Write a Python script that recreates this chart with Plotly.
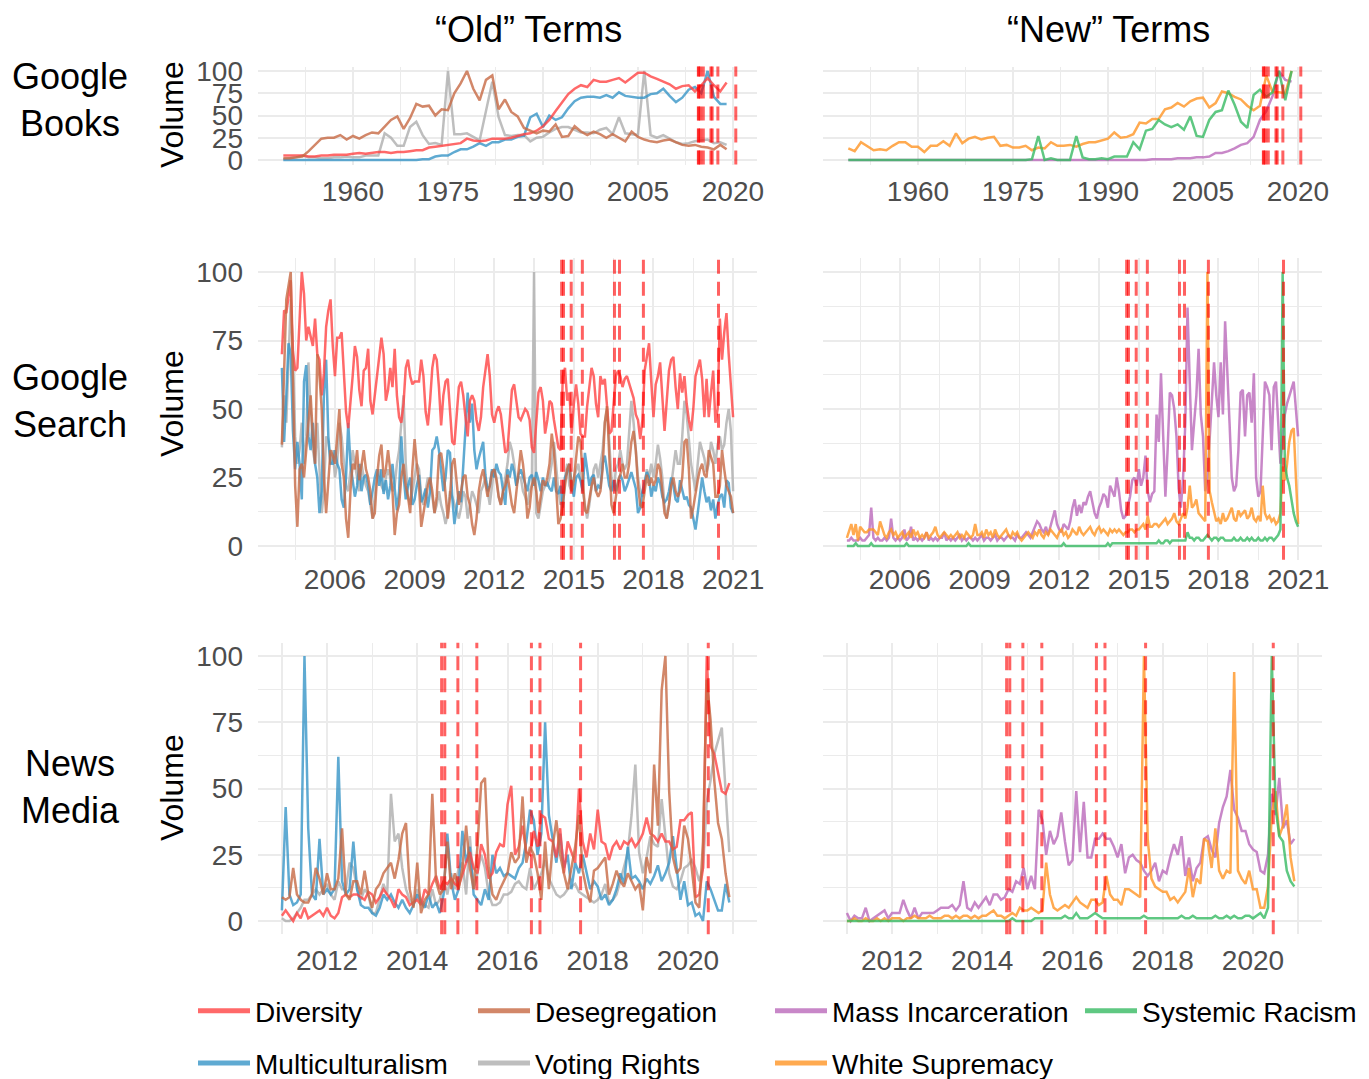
import plotly.graph_objects as go

FONT = "Liberation Sans, Arial, Helvetica, sans-serif"
W, H = 1369, 1079

# ---------------- data ----------------
series_names = ["Diversity", "Desegregation", "Mass Incarceration", "Systemic Racism",
                "Multiculturalism", "Voting Rights", "White Supremacy"]

# Google Books, annual 1949-2019
books_first_year = 1949
books_diversity = [5, 5, 5, 5, 4, 4, 5, 5, 6, 6,
                   6, 7, 8, 7, 8, 9, 9, 8, 9, 9,
                   10, 11, 11, 14, 15, 16, 17, 18, 19, 24,
                   22, 21, 22, 24, 24, 24, 25, 27, 29, 30,
                   33, 38, 45, 55, 65, 74, 80, 84, 82, 90,
                   88, 88, 90, 92, 87, 93, 98, 98, 94, 91,
                   88, 85, 80, 83, 84, 77, 84, 92, 84, 77,
                   87]
books_multiculturalism = [0, 0, 0, 0, 0, 0, 0, 0, 0, 0,
                          0, 0, 0, 0, 0, 0, 0, 0, 0, 0,
                          0, 0, 1, 1, 4, 5, 5, 9, 12, 12,
                          15, 19, 16, 20, 20, 23, 23, 26, 27, 48,
                          52, 37, 50, 45, 48, 58, 66, 70, 71, 71,
                          70, 73, 70, 76, 72, 71, 70, 70, 74, 75,
                          80, 72, 65, 70, 79, 82, 75, 100, 71, 63,
                          63]
books_desegregation = [2, 2, 3, 4, 10, 17, 24, 25, 25, 28,
                       23, 27, 24, 28, 31, 30, 38, 45, 49, 35,
                       47, 63, 60, 61, 50, 57, 56, 75, 86, 100,
                       80, 67, 90, 95, 57, 68, 54, 49, 36, 33,
                       30, 33, 32, 40, 26, 27, 38, 32, 28, 32,
                       29, 25, 29, 25, 21, 32, 26, 23, 21, 20,
                       22, 23, 20, 17, 16, 17, 15, 14, 12, 17,
                       12]
books_voting_rights = [1, 2, 3, 5, 3, 3, 2, 2, 3, 3,
                       4, 3, 3, 5, 5, 5, 30, 25, 16, 16,
                       37, 43, 28, 18, 19, 17, 100, 29, 29, 30,
                       26, 22, 55, 88, 48, 28, 27, 28, 28, 21,
                       25, 26, 31, 35, 37, 37, 34, 31, 31, 30,
                       34, 36, 29, 48, 30, 29, 28, 100, 28, 25,
                       28, 24, 20, 18, 19, 21, 22, 23, 19, 20,
                       17]
books_mass_incarceration = [0, 0, 0, 0, 0, 0, 0, 0, 0, 0,
                            0, 0, 0, 0, 0, 0, 0, 0, 0, 0,
                            0, 0, 0, 0, 0, 0, 0, 0, 0, 0,
                            0, 0, 0, 0, 0, 0, 0, 0, 0, 0,
                            0, 0, 0, 0, 0, 0, 0, 0, 1, 1,
                            1, 1, 2, 2, 2, 3, 3, 4, 8, 8,
                            10, 13, 17, 19, 26, 45, 55, 72, 100, 90,
                            88]
books_systemic_racism = [0, 0, 0, 0, 0, 0, 0, 0, 0, 0,
                         0, 0, 0, 0, 0, 0, 0, 0, 0, 0,
                         0, 0, 0, 0, 0, 0, 0, 0, 0, 1,
                         27, 0, 2, 0, 0, 0, 27, 3, 1, 1,
                         2, 1, 4, 4, 4, 20, 12, 33, 35, 45,
                         40, 37, 40, 34, 49, 27, 26, 45, 54, 56,
                         78, 62, 43, 36, 73, 79, 71, 76, 100, 67,
                         100]
books_white_supremacy = [13, 10, 20, 15, 11, 12, 11, 16, 20, 20,
                         15, 15, 9, 16, 16, 21, 16, 30, 19, 24,
                         26, 23, 25, 26, 16, 17, 14, 14, 16, 11,
                         14, 13, 20, 16, 16, 17, 15, 18, 20, 20,
                         22, 24, 31, 25, 26, 29, 42, 41, 46, 46,
                         57, 59, 64, 60, 66, 69, 70, 59, 64, 77,
                         75, 71, 68, 61, 56, 61, 95, 76, 76, 75,
                         100]

# Google Search, monthly from Jan 2004 (one row per year)
search_first_month = 2004.0
search_diversity = [
    70, 86, 85, 92, 97, 71, 64, 65, 86, 100, 92, 75,
    80, 76, 73, 83, 70, 68, 55, 63, 80, 86, 90, 73,
    62, 76, 76, 78, 62, 49, 43, 52, 62, 73, 69, 57,
    51, 64, 65, 72, 53, 48, 55, 64, 69, 76, 70, 53,
    57, 65, 58, 72, 55, 47, 45, 52, 65, 68, 62, 59,
    60, 60, 60, 68, 62, 49, 44, 53, 65, 70, 68, 58,
    44, 55, 60, 61, 49, 38, 37, 46, 58, 60, 55, 47,
    40, 53, 55, 53, 46, 42, 47, 58, 64, 70, 62, 48,
    45, 49, 51, 48, 41, 34, 35, 45, 57, 59, 53, 47,
    46, 48, 50, 49, 46, 36, 34, 45, 56, 58, 53, 41,
    46, 53, 52, 46, 41, 36, 35, 62, 65, 53, 56, 41,
    52, 59, 52, 41, 40, 40, 51, 58, 65, 62, 52, 47,
    62, 59, 61, 51, 41, 42, 51, 62, 64, 62, 58, 61,
    62, 59, 57, 54, 48, 46, 39, 46, 64, 70, 74, 60,
    47, 59, 62, 67, 53, 42, 53, 64, 68, 69, 58, 50,
    63, 56, 62, 52, 46, 42, 50, 62, 65, 68, 61, 47,
    61, 47, 56, 64, 45, 50, 83, 68, 78, 85, 70, 58,
    47]
search_multiculturalism = [
    65, 38, 55, 74, 70, 42, 28, 38, 30, 17, 60, 66,
    40, 35, 45, 30, 25, 12, 20, 55, 68, 40, 30, 30,
    35, 30, 28, 17, 14, 25, 45, 30, 24, 18, 22, 30,
    20, 25, 26, 22, 15, 20, 25, 28, 22, 28, 19, 24,
    17, 22, 30, 21, 13, 20, 40, 26, 17, 22, 25, 15,
    17, 22, 26, 16, 18, 21, 14, 20, 35, 36, 40, 35,
    28, 20, 25, 35, 34, 18, 8, 15, 20, 16, 30, 40,
    56, 45, 52, 35, 28, 32, 35, 38, 26, 20, 22, 28,
    25, 30, 27, 26, 20, 15, 28, 25, 30, 27, 22, 26,
    28, 25, 22, 20, 25, 26, 22, 27, 24, 20, 25, 22,
    23, 21, 20, 25, 20, 19, 22, 14, 25, 27, 30, 22,
    18, 25, 26, 24, 20, 34, 28, 22, 25, 26, 20, 22,
    21, 30, 33, 28, 22, 20, 24, 20, 23, 26, 24, 20,
    22, 25, 27, 24, 21, 12, 14, 20, 24, 27, 25, 18,
    22, 20, 25, 23, 18, 16, 17, 20, 25, 22, 17, 16,
    24, 21, 17, 18, 15, 14, 10, 6, 12, 18, 25, 20,
    16, 18, 13, 17, 10, 15, 18, 19, 14, 24, 23, 14,
    12]
search_desegregation = [
    37, 62, 90, 95, 100, 60, 22, 7, 28, 30, 25, 35,
    45, 55, 40, 30, 70, 62, 50, 25, 12, 22, 35, 33,
    30, 40, 50, 30, 25, 10, 3, 20, 30, 28, 35, 24,
    30, 35, 28, 25, 20, 10, 12, 25, 33, 37, 25, 28,
    35, 28, 20, 4, 12, 15, 25, 30, 22, 18, 12, 28,
    39, 30, 22, 7, 12, 18, 22, 25, 20, 12, 18, 33,
    34, 28, 20, 10, 18, 30, 32, 22, 15, 20, 25, 26,
    18, 15, 8, 4, 10, 20, 25, 28, 22, 18, 22, 27,
    28, 24, 18, 15, 20, 22, 26, 20, 15, 12, 20, 28,
    35, 30, 22, 10, 14, 22, 25, 20, 12, 18, 24, 22,
    25, 30, 41, 35, 20, 8, 10, 15, 22, 28, 30, 20,
    24, 32, 40, 38, 25, 13, 12, 18, 22, 25, 20, 18,
    20, 28, 45, 51, 30, 15, 12, 18, 24, 26, 30, 25,
    25, 30, 38, 42, 35, 22, 15, 14, 20, 26, 22, 25,
    22, 24, 30, 28, 20, 12, 10, 15, 22, 25, 20, 18,
    20, 25, 38, 39, 28, 10, 14, 20, 24, 28, 30, 26,
    25, 35, 32, 30, 18, 18, 22, 35, 28, 22, 20, 18,
    12]
search_voting_rights = [
    36, 55, 45, 65, 90, 70, 40, 30, 35, 45, 30, 40,
    67, 50, 35, 30, 45, 28, 12, 20, 40, 38, 30, 35,
    25, 30, 45, 40, 30, 22, 20, 28, 35, 30, 25, 20,
    30, 25, 22, 20, 15, 10, 18, 25, 28, 22, 20, 25,
    28, 25, 20, 22, 30, 35, 45, 55, 30, 18, 15, 20,
    25, 30, 28, 18, 15, 20, 25, 22, 18, 12, 15, 20,
    15, 12, 8, 12, 20, 18, 15, 12, 10, 14, 20, 18,
    10, 15, 20, 18, 15, 12, 20, 22, 25, 20, 15, 22,
    28, 25, 18, 15, 20, 25, 30, 38, 35, 30, 22, 25,
    25, 20, 18, 15, 20, 22, 100, 12, 10, 15, 20, 22,
    22, 25, 30, 38, 28, 20, 15, 18, 25, 30, 22, 20,
    25, 28, 30, 25, 20, 15, 10, 15, 22, 28, 30, 25,
    30, 35, 45, 50, 38, 25, 20, 28, 30, 35, 30, 28,
    30, 40, 53, 45, 35, 25, 20, 18, 22, 28, 25, 30,
    25, 30, 37, 32, 25, 15, 10, 15, 22, 28, 35, 30,
    30, 40, 53, 48, 40, 30, 25, 20, 30, 38, 35, 32,
    27, 30, 38, 35, 30, 37, 40, 35, 37, 45, 50, 42,
    20]
search_mass_incarceration = [
    2, 2, 3, 2, 2, 2, 3, 2, 2, 3, 4, 14,
    3, 2, 3, 2, 2, 3, 2, 3, 10, 3, 2, 3,
    2, 3, 6, 2, 3, 7, 2, 3, 2, 3, 2, 3,
    5, 2, 3, 2, 3, 2, 3, 3, 5, 2, 3, 2,
    3, 2, 3, 4, 2, 3, 2, 3, 3, 2, 3, 2,
    3, 4, 2, 3, 3, 2, 3, 4, 2, 3, 3, 2,
    3, 4, 3, 3, 2, 4, 3, 3, 4, 5, 4, 3,
    5, 7, 9, 8, 6, 5, 7, 4, 7, 10, 13, 8,
    6, 5, 8, 7, 6, 9, 14, 17, 11, 15, 12, 16,
    15, 18, 20, 16, 12, 10, 14, 16, 19, 18, 14, 22,
    20, 18, 25, 20, 13, 10, 11, 14, 18, 24, 25, 22,
    28, 22, 25, 33, 20, 16, 19, 20, 48, 38, 63, 40,
    18, 35, 56, 55, 50, 40, 21, 14, 25, 45, 87, 60,
    35, 45, 55, 72, 48, 40, 20, 25, 40, 50, 67, 55,
    47, 67, 48, 82, 60, 45, 25, 20, 22, 35, 56, 57,
    40, 55, 56, 45, 63, 25, 18, 20, 40, 60, 58, 55,
    35, 58, 60, 45, 30, 40, 48, 52, 55, 58, 60, 50,
    40]
search_white_supremacy = [
    3, 6, 8, 4, 8, 2, 7, 6, 5, 5, 6, 6,
    6, 5, 4, 9, 6, 4, 3, 5, 6, 4, 5, 3,
    4, 5, 3, 4, 5, 3, 6, 4, 5, 3, 4, 3,
    5, 3, 4, 5, 7, 4, 3, 4, 5, 4, 3, 4,
    3, 4, 5, 3, 4, 3, 5, 4, 3, 4, 8, 4,
    4, 5, 3, 6, 4, 5, 3, 6, 4, 3, 4, 5,
    6, 4, 3, 5, 4, 5, 3, 2, 3, 4, 5, 4,
    3, 5, 4, 6, 4, 3, 5, 4, 6, 5, 4, 3,
    5, 6, 4, 5, 3, 4, 6, 5, 4, 7, 5, 4,
    5, 6, 7, 5, 4, 6, 7, 5, 6, 5, 4, 6,
    5, 6, 5, 6, 5, 4, 5, 5, 6, 6, 5, 6,
    6, 7, 8, 6, 11, 7, 7, 8, 8, 7, 8, 9,
    10, 8, 9, 10, 12, 9, 8, 10, 12, 10, 14, 22,
    14, 15, 17, 12, 11, 10, 9, 100, 20, 16, 12, 9,
    10, 8, 12, 9, 10, 12, 14, 10, 9, 13, 11, 12,
    13, 10, 11, 14, 10, 9, 11, 9, 22, 12, 10, 11,
    9, 10, 8, 9, 12, 29, 24, 30, 38, 42, 43, 25,
    8]
search_systemic_racism = [
    0, 0, 0, 0, 1, 0, 0, 0, 0, 0, 0, 1,
    0, 0, 0, 0, 0, 0, 0, 0, 0, 0, 0, 0,
    0, 0, 0, 1, 0, 0, 0, 0, 0, 0, 0, 0,
    0, 0, 0, 0, 0, 0, 0, 0, 0, 0, 0, 0,
    0, 0, 0, 0, 0, 0, 0, 1, 0, 0, 0, 0,
    0, 0, 0, 0, 0, 0, 0, 0, 0, 0, 0, 0,
    0, 0, 0, 0, 0, 0, 0, 0, 0, 0, 0, 0,
    0, 0, 0, 0, 0, 0, 0, 0, 0, 0, 0, 0,
    0, 0, 1, 0, 0, 0, 0, 0, 0, 0, 0, 0,
    0, 0, 0, 0, 0, 0, 0, 0, 0, 0, 1, 0,
    1, 1, 1, 1, 1, 1, 1, 1, 1, 1, 1, 1,
    1, 1, 1, 1, 1, 1, 1, 1, 1, 2, 1, 1,
    2, 2, 1, 2, 2, 2, 2, 2, 2, 2, 5, 3,
    3, 2, 3, 3, 2, 2, 3, 4, 3, 2, 3, 3,
    2, 3, 3, 2, 2, 2, 2, 3, 2, 2, 3, 2,
    2, 3, 2, 3, 2, 2, 3, 2, 2, 3, 2, 3,
    3, 2, 3, 4, 6, 100, 30, 25, 22, 16, 12, 9,
    7]

# News Media, monthly from Jan 2011 (one row per year)
news_first_month = 2011.0
news_diversity = [
    2, 4, 2, 0, 3, 1, 5, 1, 2, 3, 4, 2,
    5, 2, 1, 3, 9, 10, 9, 10, 10, 9, 8, 11,
    10, 7, 9, 12, 10, 8, 5, 12, 10, 9, 6, 7,
    8, 6, 12, 10, 14, 17, 12, 15, 14, 16, 14, 13,
    18, 22, 26, 20, 18, 29, 25, 16, 18, 26, 29, 28,
    44, 51, 25, 28, 36, 26, 25, 34, 28, 40, 39, 31,
    30, 24, 35, 18, 30, 26, 22, 50, 30, 24, 33, 27,
    42, 30, 29, 23, 28, 30, 27, 30, 29, 31, 28, 30,
    33, 39, 33, 32, 30, 33, 30, 30, 27, 28, 38, 38,
    40, 41, 9, 10, 20, 100, 66, 63, 56, 49, 48, 52]
news_multiculturalism = [
    4, 43, 10, 6, 7, 10, 100, 35, 10, 8, 31, 10,
    12, 10, 12, 62, 15, 10, 12, 30, 12, 6, 5, 5,
    3, 2, 5, 10, 8, 10, 7, 5, 8, 5, 3, 6,
    10, 7, 5, 10, 5, 7, 3, 10, 33, 15, 8, 12,
    34, 22, 28, 10, 8, 6, 12, 8, 25, 18, 20, 17,
    18, 17, 16, 20, 22, 30, 42, 38, 25, 33, 75, 40,
    30, 22, 33, 20, 25, 12, 22, 18, 25, 18, 12, 15,
    13, 8, 10, 6, 8, 12, 18, 14, 28, 16, 17, 15,
    12, 16, 14, 17, 21, 15, 18, 22, 32, 20, 8, 15,
    6, 7, 2, 3, 0, 15, 12, 8, 4, 4, 14, 7]
news_desegregation = [
    9, 8, 9, 20, 10, 8, 7, 7, 10, 20, 16, 10,
    18, 12, 12, 16, 35, 10, 8, 15, 15, 10, 19, 10,
    5, 12, 14, 18, 20, 22, 16, 23, 33, 37, 12, 5,
    22, 3, 8, 10, 48, 15, 10, 12, 30, 12, 18, 12,
    20, 36, 20, 12, 28, 52, 54, 20, 10, 8, 12, 15,
    18, 26, 22, 24, 47, 22, 28, 25, 18, 8, 30, 12,
    28, 38, 25, 18, 12, 20, 28, 40, 19, 12, 7, 19,
    20, 22, 24, 10, 14, 19, 15, 13, 18, 15, 12, 14,
    4, 24, 18, 59, 36, 87, 100, 49, 24, 18, 20, 36,
    31, 20, 7, 5, 30, 91, 76, 53, 37, 31, 18, 9]
news_voting_rights = [
    1, 0, 0, 1, 3, 5, 8, 8, 10, 12, 10, 12,
    14, 10, 8, 15, 12, 12, 22, 20, 12, 8, 12, 10,
    3, 3, 8, 14, 10, 48, 30, 33, 20, 12, 8, 6,
    12, 8, 6, 5, 12, 6, 8, 15, 10, 18, 12, 20,
    22, 10, 32, 12, 18, 25, 20, 10, 6, 6, 7, 10,
    10, 11, 14, 15, 13, 12, 20, 12, 15, 18, 23, 16,
    13, 10, 9, 10, 12, 13, 14, 11, 10, 9, 8, 7,
    8, 10, 14, 7, 8, 10, 15, 20, 26, 40, 59, 26,
    18, 24, 32, 29, 28, 46, 33, 18, 13, 12, 15, 20,
    21, 23, 20, 15, 20, 45, 53, 63, 68, 73, 49, 26]
news_mass_incarceration = [
    3, 0, 2, 1, 1, 5, 0, 1, 2, 3, 4, 1,
    3, 3, 3, 8, 4, 1, 5, 1, 3, 3, 3, 3,
    4, 5, 5, 5, 6, 4, 6, 15, 5, 4, 7, 5,
    7, 9, 6, 10, 10, 8, 9, 12, 11, 15, 14, 20,
    12, 17, 12, 42, 38, 25, 34, 29, 32, 41, 30, 21,
    23, 49, 26, 45, 24, 24, 31, 31, 33, 31, 31, 28,
    24, 29, 18, 24, 25, 23, 22, 19, 17, 19, 22, 15,
    19, 18, 24, 29, 25, 32, 17, 24, 15, 20, 22, 31,
    32, 27, 24, 37, 43, 47, 57, 42, 39, 34, 34, 29,
    27, 26, 19, 18, 25, 48, 40, 54, 35, 38, 29, 31]
news_white_supremacy = [
    0, 0, 1, 0, 0, 1, 0, 0, 1, 0, 1, 0,
    1, 1, 1, 0, 1, 1, 2, 1, 1, 1, 2, 1,
    1, 1, 2, 2, 1, 2, 1, 2, 2, 1, 2, 1,
    2, 2, 3, 4, 2, 2, 1, 2, 3, 2, 5, 4,
    4, 5, 4, 3, 4, 22, 10, 5, 4, 5, 6, 5,
    7, 9, 7, 6, 5, 8, 8, 6, 7, 17, 10, 8,
    8, 6, 12, 12, 11, 10, 9, 100, 31, 16, 13, 12,
    11, 11, 8, 9, 7, 9, 11, 20, 9, 16, 14, 31,
    30, 20, 35, 19, 16, 19, 18, 94, 19, 16, 14, 19,
    12, 12, 5, 5, 13, 40, 49, 32, 36, 44, 24, 15]
news_systemic_racism = [
    0, 0, 0, 0, 0, 0, 0, 0, 0, 0, 0, 0,
    0, 0, 0, 0, 0, 0, 0, 0, 0, 0, 0, 0,
    0, 0, 0, 0, 0, 0, 0, 0, 0, 0, 0, 0,
    0, 0, 0, 0, 0, 0, 0, 0, 1, 0, 0, 0,
    0, 0, 1, 1, 1, 1, 1, 1, 1, 1, 2, 1,
    1, 3, 1, 1, 1, 2, 3, 2, 1, 1, 1, 1,
    1, 1, 1, 1, 1, 1, 1, 2, 1, 1, 1, 1,
    1, 1, 1, 1, 1, 2, 1, 1, 2, 1, 1, 1,
    1, 1, 2, 1, 1, 2, 1, 2, 1, 1, 2, 2,
    1, 2, 3, 1, 5, 100, 43, 32, 30, 19, 15, 13]

# Event dates (vertical dashed lines), decimal years
event_dates = [2014.54, 2014.61, 2014.90, 2015.32, 2016.53, 2016.72, 2017.62, 2020.45]

# Tick labels / breaks
books_ticks = [1960, 1975, 1990, 2005, 2020]
books_minor = [1952.5, 1967.5, 1982.5, 1997.5, 2012.5]
search_ticks = [2006, 2009, 2012, 2015, 2018, 2021]
search_minor = [2004.5, 2007.5, 2010.5, 2013.5, 2016.5, 2019.5]
news_ticks = [2012, 2014, 2016, 2018, 2020]
news_minor = [2011, 2013, 2015, 2017, 2019, 2021]
y_ticks = [0, 25, 50, 75, 100]
y_minor = [12.5, 37.5, 62.5, 87.5]

column_titles = ["\u201cOld\u201d Terms", "\u201cNew\u201d Terms"]
row_titles = ["Google<br>Books", "Google<br>Search", "News<br>Media"]
y_title = "Volume"

# ---------------- style ----------------
colors = {
    "Diversity": "rgba(255,67,67,0.8)",
    "Desegregation": "rgba(199,105,67,0.8)",
    "Mass Incarceration": "rgba(186,105,186,0.8)",
    "Systemic Racism": "rgba(55,186,99,0.8)",
    "Multiculturalism": "rgba(55,149,199,0.8)",
    "Voting Rights": "rgba(174,174,174,0.8)",
    "White Supremacy": "rgba(255,149,36,0.8)",
}
old_order = ["Voting Rights", "Multiculturalism", "Diversity", "Desegregation"]
new_order = ["Mass Incarceration", "White Supremacy", "Systemic Racism"]

books_x = [books_first_year + i for i in range(len(books_diversity))]


def monthly(start, n):
    return [start + i / 12 for i in range(n)]


rows = [
    dict(x=books_x, ticks=books_ticks, minor=books_minor, xr=[1945.0, 2023.8], ymin=False,
         data={"Diversity": books_diversity, "Multiculturalism": books_multiculturalism,
               "Desegregation": books_desegregation, "Voting Rights": books_voting_rights,
               "Mass Incarceration": books_mass_incarceration,
               "Systemic Racism": books_systemic_racism,
               "White Supremacy": books_white_supremacy},
         ydom=(66.5, 164.5), standoff=7),
    dict(x=monthly(search_first_month, len(search_diversity)), ticks=search_ticks,
         minor=search_minor, xr=[2003.1, 2021.9], ymin=True,
         data={"Diversity": search_diversity, "Multiculturalism": search_multiculturalism,
               "Desegregation": search_desegregation, "Voting Rights": search_voting_rights,
               "Mass Incarceration": search_mass_incarceration,
               "Systemic Racism": search_systemic_racism,
               "White Supremacy": search_white_supremacy},
         ydom=(258.3, 559.7), standoff=0),
    dict(x=monthly(news_first_month, len(news_diversity)), ticks=news_ticks,
         minor=news_minor, xr=[2010.47, 2021.53], ymin=True,
         data={"Diversity": news_diversity, "Multiculturalism": news_multiculturalism,
               "Desegregation": news_desegregation, "Voting Rights": news_voting_rights,
               "Mass Incarceration": news_mass_incarceration,
               "Systemic Racism": news_systemic_racism,
               "White Supremacy": news_white_supremacy},
         ydom=(642.75, 934.25), standoff=7),
]
col_px = [(258, 757), (823, 1322)]
GRID = "#EBEBEB"
TICKCOL = "#4D4D4D"

fig = go.Figure()
layout = dict(width=W, height=H, autosize=False,
              margin=dict(l=0, r=0, t=0, b=0, pad=0, autoexpand=False),
              paper_bgcolor="white", plot_bgcolor="white", showlegend=True,
              font=dict(family=FONT, color="black"))
shapes = []
annotations = []

for r, row in enumerate(rows):
    for c in range(2):
        k = r * 2 + c + 1
        xa = "x" if k == 1 else f"x{k}"
        ya = "y" if k == 1 else f"y{k}"
        order = old_order if c == 0 else new_order
        for name in order:
            vals = row["data"][name]
            fig.add_trace(go.Scatter(x=row["x"][:len(vals)], y=vals, mode="lines",
                                     line=dict(color=colors[name], width=2.5),
                                     xaxis=xa, yaxis=ya, showlegend=False,
                                     hoverinfo="skip"))
        t, b = row["ydom"]
        l, rr = col_px[c]
        layout["xaxis" + ("" if k == 1 else str(k))] = dict(
            domain=[l / W, rr / W], range=row["xr"], anchor=ya,
            tickvals=row["ticks"], ticktext=[str(v) for v in row["ticks"]],
            showgrid=True, gridcolor=GRID, gridwidth=2, zeroline=False, showline=False,
            ticks="", tickfont=dict(size=28, color=TICKCOL, family=FONT),
            ticklabelstandoff=row["standoff"],
            minor=dict(tickvals=row["minor"], showgrid=True, gridcolor=GRID, gridwidth=1.2))
        ydict = dict(
            domain=[1 - b / H, 1 - t / H], range=[-5, 105], anchor=xa,
            tickvals=y_ticks, ticktext=[str(v) for v in y_ticks],
            showticklabels=(c == 0),
            showgrid=True, gridcolor=GRID, gridwidth=2, zeroline=False, showline=False,
            ticks="", tickfont=dict(size=28, color=TICKCOL, family=FONT),
            ticklabelstandoff=14)
        if row["ymin"]:
            ydict["minor"] = dict(tickvals=y_minor, showgrid=True, gridcolor=GRID, gridwidth=1.2)
        layout["yaxis" + ("" if k == 1 else str(k))] = ydict
        for e in event_dates:
            shapes.append(dict(type="line", xref=xa, yref=ya + " domain", x0=e, x1=e,
                               y0=0, y1=1, layer="above",
                               line=dict(color="rgba(255,0,0,0.62)", width=3,
                                         dash="14px,8px")))

# legend-only traces
legend_cols = [("legend", ["Diversity", "Multiculturalism"], 198),
               ("legend2", ["Desegregation", "Voting Rights"], 478),
               ("legend3", ["Mass Incarceration", "White Supremacy"], 775),
               ("legend4", ["Systemic Racism"], 1085)]
for lg, names, px in legend_cols:
    for name in names:
        fig.add_trace(go.Scatter(x=[None], y=[None], mode="lines", name=name,
                                 line=dict(color=colors[name], width=5),
                                 legend=lg, legendgroup=name, showlegend=True,
                                 xaxis="x", yaxis="y"))
    layout[lg] = dict(x=(px - 5) / W, xanchor="left", y=1 - 986 / H, yanchor="top",
                      orientation="v", bgcolor="rgba(0,0,0,0)", borderwidth=0,
                      itemwidth=52, tracegroupgap=13,
                      font=dict(size=28, family=FONT, color="black"))

# titles
for txt, cx in zip(column_titles, [528, 1108]):
    annotations.append(dict(text=txt, x=cx / W, y=1 - 30 / H, xref="paper", yref="paper",
                            xanchor="center", yanchor="middle", showarrow=False,
                            font=dict(size=36, family=FONT, color="black")))
for txt, cy in zip(row_titles, [100, 401, 787]):
    annotations.append(dict(text=txt, x=70 / W, y=1 - cy / H, xref="paper", yref="paper",
                            xanchor="center", yanchor="middle",
                            showarrow=False, align="center",
                            font=dict(size=36, family=FONT, color="black")))
for cy in [115, 404, 788]:
    annotations.append(dict(text=y_title, x=172 / W, y=1 - cy / H, xref="paper", yref="paper",
                            xanchor="center", yanchor="middle",
                            showarrow=False, textangle=-90,
                            font=dict(size=32, family=FONT, color="black")))

layout["shapes"] = shapes
layout["annotations"] = annotations
fig.update_layout(**layout)
fig.write_html("out.html",
               config={"displayModeBar": False, "staticPlot": True},
               post_script="document.body.style.margin='0px';document.body.style.overflow='hidden';")
